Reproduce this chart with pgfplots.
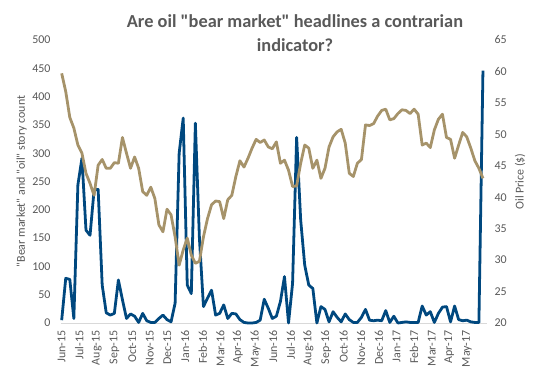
\documentclass[border=0pt]{standalone}
\usepackage{fontspec}
\setmainfont{Carlito}[Ligatures=TeXOff]
\usepackage{pgfplots}
\usepackage{pgfplotstable}
\pgfplotsset{compat=1.18}
\definecolor{blueline}{HTML}{00487F}
\definecolor{goldline}{HTML}{A6936A}
\definecolor{txtgray}{HTML}{595959}
\definecolor{axgray}{HTML}{D9D9D9}

\pgfplotstableread{
w count
0 5
1 79
2 77
3 8
4 244
5 291
6 164
7 155
8 235
9 236
10 67
11 18
12 14
13 17
14 76
15 41
16 8
17 16
18 12
19 1
20 17
21 4
22 1
23 1
24 8
25 14
26 6
27 2
28 35
29 300
30 362
31 67
32 52
33 353
34 150
35 29
36 44
37 58
38 14
39 17
40 32
41 8
42 17
43 16
44 6
45 1
46 0
47 0
48 1
49 5
50 42
51 26
52 8
53 12
54 38
55 82
56 0
57 70
58 328
59 182
60 102
61 67
62 61
63 0
64 29
65 24
66 2
67 20
68 10
69 2
70 16
71 6
72 1
73 1
74 10
75 24
76 5
77 4
78 5
79 4
80 22
81 1
82 12
83 0
84 1
85 2
86 1
87 1
88 1
89 30
90 14
91 20
92 1
93 17
94 28
95 29
96 2
97 30
98 6
99 4
100 5
101 2
102 1
103 1
104 446
}\storytable

\pgfplotstableread{
w price
0 59.7
1 56.8
2 52.7
3 51.0
4 48.3
5 47.0
6 43.8
7 42.2
8 40.3
9 45.1
10 46.0
11 44.6
12 44.6
13 45.5
14 45.4
15 49.5
16 47.0
17 44.6
18 46.4
19 44.6
20 40.9
21 40.3
22 41.6
23 39.8
24 35.6
25 34.5
26 38.1
27 37.2
28 33.7
29 29.2
30 31.6
31 33.5
32 30.8
33 29.5
34 29.8
35 33.7
36 36.6
37 38.8
38 39.4
39 39.3
40 36.6
41 39.6
42 40.3
43 43.3
44 45.8
45 44.8
46 46.2
47 47.8
48 49.2
49 48.7
50 49.1
51 48.0
52 47.7
53 48.8
54 45.4
55 45.9
56 44.3
57 41.7
58 41.8
59 45.4
60 48.3
61 47.8
62 44.6
63 45.9
64 43.0
65 44.6
66 48.0
67 49.6
68 50.4
69 50.8
70 48.6
71 43.8
72 43.3
73 45.4
74 46.0
75 51.5
76 51.4
77 51.7
78 52.9
79 53.8
80 54.0
81 52.3
82 52.5
83 53.3
84 53.9
85 53.8
86 53.3
87 54.0
88 53.2
89 48.3
90 48.6
91 47.9
92 50.7
93 52.4
94 53.2
95 49.5
96 49.2
97 46.2
98 48.3
99 50.3
100 49.6
101 47.8
102 45.8
103 44.6
104 43.0
}\pricetable

\newcommand{\tickfont}{\fontsize{12}{14.4}\selectfont}

\begin{document}
\begin{tikzpicture}[x=1bp,y=1bp]
\useasboundingbox (-61,-51) rectangle (475,323);
\begin{axis}[
  at={(0,0)}, anchor=south west,
  scale only axis, width=426bp, height=283bp,
  xmin=-0.17, xmax=105, ymin=0, ymax=500,
  axis x line*=bottom, axis y line*=left,
  y axis line style={draw=none},
  x axis line style={draw=axgray, line width=0.75pt},
  tick style={draw=none},
  clip=false,
  /pgf/number format/assume math mode=true,
  xtick={0,4.35,8.7,13.05,17.4,21.75,26.1,30.45,34.8,39.15,43.5,47.85,52.2,56.55,60.9,65.25,69.6,73.95,78.3,82.65,87,91.35,95.7,100.05},
  xticklabels={Jun-15,Jul-15,Aug-15,Sep-15,Oct-15,Nov-15,Dec-15,Jan-16,Feb-16,Mar-16,Apr-16,May-16,Jun-16,Jul-16,Aug-16,Sep-16,Oct-16,Nov-16,Dec-16,Jan-17,Feb-17,Mar-17,Apr-17,May-17},
  xticklabel style={rotate=90, anchor=east, font=\tickfont, text=txtgray},
  xticklabel shift=4bp,
  ytick={0,50,...,500},
  yticklabel style={font=\tickfont, text=txtgray},
  yticklabel shift=7bp,
  ylabel={"Bear market" and "oil" story count},
  ylabel style={at={(axis description cs:-0.0923,0.5)}, anchor=center, font=\tickfont, text=txtgray},
]
\addplot[blueline, line width=2.8pt, line join=round, no marks] table[x=w, y=count] {\storytable};
\end{axis}
\begin{axis}[
  at={(0,0)}, anchor=south west,
  scale only axis, width=426bp, height=283bp,
  xmin=-0.17, xmax=105, ymin=20, ymax=65,
  axis x line=none, axis y line*=right,
  y axis line style={draw=none},
  tick style={draw=none},
  clip=false,
  /pgf/number format/assume math mode=true,
  ytick={20,25,...,65},
  yticklabel style={font=\tickfont, text=txtgray},
  yticklabel shift=4bp,
  ylabel={Oil Price (\$)},
  ylabel style={at={(axis description cs:1.0775,0.5)}, anchor=center, font=\tickfont, text=txtgray},
]
\addplot[goldline, line width=2.8pt, line join=round, no marks] table[x=w, y=price] {\pricetable};
\end{axis}
\node[font=\bfseries\fontsize{18.4}{22}\selectfont, text=txtgray, anchor=base] at (234,295.5) {Are oil "bear market" headlines a contrarian};
\node[font=\bfseries\fontsize{18.4}{22}\selectfont, text=txtgray, anchor=base] at (234,272) {indicator?};
\end{tikzpicture}
\end{document}
